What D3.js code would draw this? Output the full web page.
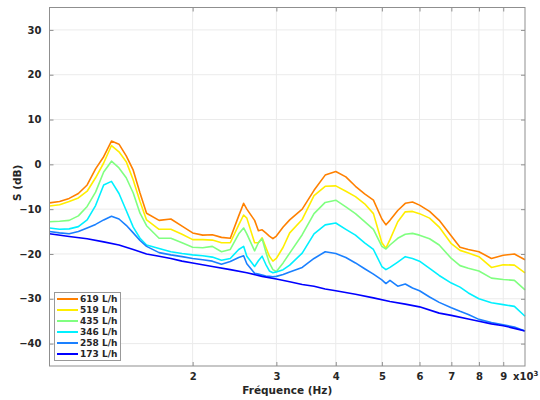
<!DOCTYPE html>
<html><head><meta charset="utf-8">
<script src="https://cdn.jsdelivr.net/npm/d3@7"></script>
<style>body{margin:0;background:#fff}svg{display:block}</style>
</head><body>
<svg id="chart" width="540" height="400"></svg>
<script>
// Frequency grid (kHz) for the upper five series
const freqs = [1.0,1.05,1.1,1.15,1.2,1.25,1.3,1.35,1.4,1.45,1.5,1.55,1.6,1.7,1.8,1.9,2.0,2.1,2.2,2.3,2.4,2.5,2.56,2.6,2.7,2.75,2.8,2.85,2.9,2.95,3.0,3.1,3.2,3.4,3.6,3.8,4.0,4.2,4.4,4.6,4.8,5.0,5.1,5.2,5.4,5.6,5.8,6.0,6.3,6.6,7.0,7.3,7.6,8.0,8.5,9.0,9.5,10];
const s619 = [-8.6,-8.3,-7.6,-6.5,-4.6,-1.0,1.7,5.2,4.5,1.9,-1.3,-6.4,-10.9,-12.5,-12.2,-13.8,-15.3,-15.8,-15.7,-16.3,-16.5,-11.5,-8.7,-10.0,-12.5,-14.8,-14.6,-15.3,-16.0,-16.6,-16.0,-14.0,-12.4,-10.0,-5.8,-2.4,-1.6,-2.8,-4.9,-6.6,-8.0,-12.2,-13.5,-12.5,-10.3,-8.7,-8.4,-9.1,-10.5,-12.5,-16.0,-18.5,-19.0,-19.5,-21.0,-20.3,-20.0,-21.3];
const s519 = [-9.3,-9.0,-8.3,-7.5,-6.0,-3.0,0.3,4.2,2.8,0.6,-3.5,-8.3,-12.4,-14.5,-14.5,-15.6,-16.8,-16.8,-16.9,-17.5,-17.5,-13.5,-11.3,-12.0,-17.5,-17.5,-16.4,-18.5,-20.5,-21.6,-21.0,-18.5,-15.3,-12.3,-7.0,-4.9,-4.8,-6.0,-7.2,-8.8,-11.0,-17.5,-18.7,-16.8,-12.8,-10.6,-10.5,-11.0,-12.0,-14.0,-17.7,-19.2,-19.8,-20.6,-23.0,-22.4,-22.5,-24.2];
const s435 = [-12.8,-12.7,-12.5,-11.5,-9.4,-6.2,-1.7,0.7,-0.8,-3.0,-6.4,-10.9,-13.7,-16.5,-16.5,-17.5,-18.5,-18.6,-18.3,-19.5,-19.0,-15.5,-14.2,-15.5,-19.3,-17.5,-16.6,-19.5,-22.0,-23.5,-23.9,-22.0,-19.8,-15.7,-11.0,-8.5,-8.0,-9.5,-11.0,-12.8,-14.5,-18.3,-18.9,-18.0,-16.5,-15.6,-15.4,-15.8,-16.6,-18.0,-21.0,-22.6,-23.2,-23.8,-25.4,-25.7,-25.9,-28.0];
const s346 = [-14.2,-14.5,-14.4,-13.9,-12.4,-9.2,-4.6,-3.8,-6.5,-10.3,-14.0,-16.5,-18.0,-18.8,-19.5,-19.9,-20.2,-20.4,-20.7,-21.4,-21.0,-19.0,-18.3,-20.5,-22.8,-21.5,-20.5,-22.3,-23.8,-24.2,-24.0,-23.5,-22.5,-19.8,-15.5,-13.5,-13.1,-14.5,-15.8,-17.5,-19.0,-22.8,-23.5,-23.0,-21.8,-20.6,-21.0,-21.6,-23.2,-24.8,-26.5,-27.4,-28.7,-30.0,-30.9,-31.3,-31.7,-33.9];
const s258 = [-15.0,-15.3,-15.5,-15.0,-14.2,-13.4,-12.4,-11.6,-12.2,-13.6,-15.3,-17.0,-18.3,-19.7,-20.2,-20.6,-21.0,-21.3,-21.6,-22.3,-21.7,-20.8,-20.4,-22.2,-24.3,-24.5,-24.7,-24.9,-25.0,-25.1,-25.0,-24.6,-24.0,-23.0,-21.0,-19.5,-19.9,-20.8,-22.0,-23.3,-24.5,-25.8,-26.6,-25.9,-27.2,-26.7,-27.6,-28.2,-29.6,-30.8,-32.0,-32.8,-33.5,-34.6,-35.3,-35.8,-36.3,-37.2];
// Lowest series, own frequency grid (kHz)
const freqs173 = [1.0,1.1,1.2,1.3,1.4,1.5,1.6,1.7,1.8,1.9,2.0,2.2,2.4,2.6,2.8,3.0,3.2,3.4,3.6,3.8,4.0,4.4,4.8,5.2,5.6,6.0,6.6,7.0,7.6,8.0,8.5,9.0,9.5,10];
const s173 = [-15.5,-16.1,-16.6,-17.3,-18.0,-19.0,-20.0,-20.5,-21.0,-21.6,-22.0,-22.8,-23.5,-24.2,-25.0,-25.6,-26.2,-26.8,-27.2,-27.8,-28.2,-29.0,-29.8,-30.6,-31.2,-31.8,-33.2,-33.7,-34.5,-35.0,-35.6,-36.0,-36.6,-37.2];

const seriesNames = ["619 L/h","519 L/h","435 L/h","346 L/h","258 L/h","173 L/h"];
const seriesColors = ["#ff8000","#ffee00","#80ff80","#00f0ff","#1a80ff","#0000ff"];
const yTicks = [-40,-30,-20,-10,0,10,20,30];
const xTicks = [2,3,4,5,6,7,8,9];

const series = [
  {name:seriesNames[0], f:freqs, v:s619},
  {name:seriesNames[1], f:freqs, v:s519},
  {name:seriesNames[2], f:freqs, v:s435},
  {name:seriesNames[3], f:freqs, v:s346},
  {name:seriesNames[4], f:freqs, v:s258},
  {name:seriesNames[5], f:freqs173, v:s173}
];

const L=49.5, R=525, T=7.5, B=366;
const svg = d3.select("#chart");
const x = d3.scaleLog().domain([1,10]).range([L,R]);
const y = d3.scaleLinear().domain([-45,35]).range([B,T]);
const font = "'DejaVu Sans', sans-serif";
const txt = "#262626", axc = "#8f8f8f";

// grid
svg.append("g").selectAll("line").data(xTicks).join("line")
  .attr("x1",d=>x(d)).attr("x2",d=>x(d)).attr("y1",T).attr("y2",B)
  .attr("stroke","#ebebeb").attr("stroke-width",1);
svg.append("g").selectAll("line").data(yTicks).join("line")
  .attr("x1",L).attr("x2",R).attr("y1",d=>y(d)).attr("y2",d=>y(d))
  .attr("stroke","#ebebeb").attr("stroke-width",1);

// lines
const line = d3.line().x(d=>x(d[0])).y(d=>y(d[1]));
svg.append("g").selectAll("path").data(series).join("path")
  .attr("d",s=>line(s.f.map((f,i)=>[f,s.v[i]])))
  .attr("fill","none").attr("stroke",(s,i)=>seriesColors[i])
  .attr("stroke-width",1.6).attr("stroke-linejoin","round");

// box
svg.append("rect").attr("x",L).attr("y",T).attr("width",R-L).attr("height",B-T)
  .attr("fill","none").attr("stroke",axc).attr("stroke-width",1);

// axes with inward ticks
const yAx = d3.axisLeft(y).tickValues(yTicks).tickSize(-4).tickPadding(8);
const gy = svg.append("g").attr("transform",`translate(${L},0)`).call(yAx);
const xAx = d3.axisBottom(x).tickValues(xTicks).tickSize(-4).tickPadding(7).tickFormat(d3.format("d"));
const gx = svg.append("g").attr("transform",`translate(0,${B})`).call(xAx);
svg.append("g").attr("transform",`translate(${R},0)`).call(d3.axisRight(y).tickValues(yTicks).tickSize(-4).tickFormat(""));
svg.append("g").attr("transform",`translate(0,${T})`).call(d3.axisTop(x).tickValues(xTicks).tickSize(-4).tickFormat(""));
svg.selectAll(".domain").remove();
svg.selectAll(".tick line").attr("stroke",axc);
[gy,gx].forEach(g=>g.selectAll("text").attr("fill",txt).attr("font-family",font)
  .attr("font-weight","bold").attr("font-size",10));

// x multiplier
const mult = svg.append("text").attr("x",513).attr("y",380).attr("fill",txt)
  .attr("font-family",font).attr("font-weight","bold").attr("font-size",10).text("x10");
mult.append("tspan").attr("dy",-4).attr("font-size",7).text("3");

// axis labels
svg.append("text").attr("x",(L+R)/2).attr("y",394).attr("text-anchor","middle")
  .attr("fill",txt).attr("font-family",font).attr("font-weight","bold").attr("font-size",10.5)
  .text("Fréquence (Hz)");
svg.append("text").attr("transform",`translate(21,${(T+B)/2 - 4}) rotate(-90)`).attr("text-anchor","middle")
  .attr("fill",txt).attr("font-family",font).attr("font-weight","bold").attr("font-size",10.5)
  .text("S (dB)");

// legend
const lg = svg.append("g");
lg.append("rect").attr("x",54.5).attr("y",292.5).attr("width",66).attr("height",68)
  .attr("fill","#fff").attr("stroke","#999").attr("stroke-width",1);
const items = lg.selectAll("g").data(seriesNames).join("g")
  .attr("transform",(d,i)=>`translate(0,${299+i*11})`);
items.append("line").attr("x1",57).attr("x2",78).attr("y1",0).attr("y2",0)
  .attr("stroke",(d,i)=>seriesColors[i]).attr("stroke-width",2);
items.append("text").attr("x",80).attr("y",3.3).attr("fill",txt)
  .attr("font-family",font).attr("font-weight","bold").attr("font-size",9).text(d=>d);
</script>
</body></html>
